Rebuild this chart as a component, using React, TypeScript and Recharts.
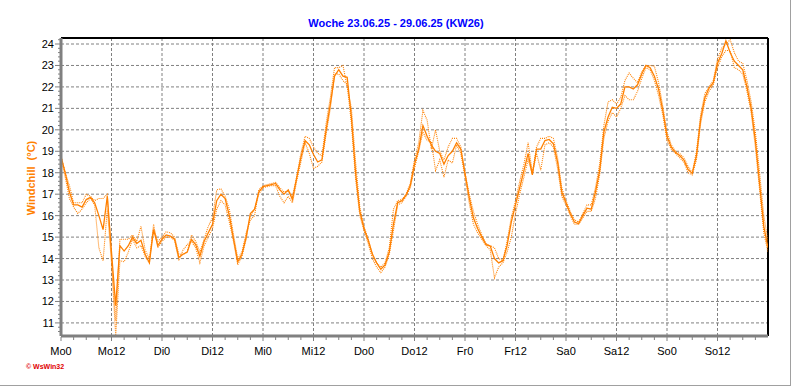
import React from "react";
import { LineChart, Line, XAxis, YAxis, ReferenceLine } from "recharts";

const dayTickLabels = ["Mo0","Mo12","Di0","Di12","Mi0","Mi12","Do0","Do12","Fr0","Fr12","Sa0","Sa12","So0","So12"];
const yLabels = [11,12,13,14,15,16,17,18,19,20,21,22,23,24];

// hourly windchill, solid series
const mainSeries = [
18.75,18.0,17.1,16.5,16.5,16.4,16.75,16.85,16.6,16.0,15.35,16.9,14.3,11.8,14.6,14.35,14.6,15.0,14.7,14.85,14.2,13.8,15.35,14.6,
14.9,15.1,15.05,14.9,14.05,14.2,14.3,14.9,14.65,14.1,14.8,15.2,15.6,16.7,17.0,16.8,16.0,14.9,13.85,14.2,15.0,16.1,16.3,17.1,
17.35,17.4,17.45,17.5,17.2,17.0,17.2,16.75,17.76,18.7,19.5,19.3,18.85,18.5,18.6,20.0,21.2,22.5,22.8,22.5,22.45,20.6,18.0,16.2,
15.4,14.85,14.2,13.8,13.5,13.7,14.3,15.6,16.6,16.7,16.95,17.4,18.4,19.1,20.2,19.7,19.3,19.0,18.9,18.4,18.8,19.0,19.4,19.1,
17.97,16.85,15.9,15.4,15.0,14.65,14.58,14.0,13.8,13.9,14.6,15.7,16.5,17.3,18.1,18.9,17.9,19.1,19.1,19.5,19.55,19.35,18.5,17.1,
16.6,16.1,15.7,15.63,16.0,16.35,16.3,17.1,18.1,19.9,20.6,21.05,21.0,21.2,22.0,22.0,21.9,22.1,22.6,23.0,22.9,22.5,21.9,20.9,
19.7,19.2,18.95,18.8,18.6,18.15,17.97,18.8,20.5,21.5,21.95,22.2,23.1,23.55,24.15,23.6,23.2,23.0,22.8,22.0,21.0,19.5,17.5,15.5,
14.5
];

// dotted series (upper)
const hiSeries = [
18.8,18.0,17.4,16.6,16.6,16.6,17.0,16.9,16.7,16.8,16.8,17.0,14.0,11.1,14.9,14.9,14.9,15.1,14.8,15.5,14.4,14.0,15.4,14.8,
15.0,15.25,15.2,15.0,14.2,14.2,14.3,15.1,14.8,14.3,14.9,15.5,15.9,17.2,17.25,16.9,16.3,15.1,14.0,14.3,15.2,15.8,16.0,17.2,
17.4,17.45,17.5,17.55,17.3,17.1,17.15,16.9,17.8,18.9,19.7,19.6,19.2,18.9,18.8,20.3,21.5,22.9,22.9,23.0,22.0,21.0,18.5,16.4,
15.5,14.9,14.2,13.8,13.6,13.8,14.5,16.3,16.7,16.75,17.0,17.5,18.6,19.4,20.9,20.45,19.1,20.0,19.0,18.6,19.2,19.6,19.6,19.2,
18.0,17.0,16.2,15.6,15.1,14.7,14.6,14.5,14.0,13.9,14.8,15.9,16.7,17.6,18.4,19.4,18.0,19.2,19.6,19.6,19.7,19.6,18.7,17.3,
16.7,16.2,15.8,15.7,16.1,16.5,16.5,17.3,18.4,20.2,21.3,21.4,21.2,21.5,22.3,22.65,22.4,22.2,22.7,23.0,23.0,22.96,22.2,21.1,
19.9,19.3,19.0,18.9,18.7,18.3,18.0,19.0,20.7,21.7,22.0,22.3,23.3,23.8,24.0,24.2,23.6,23.2,23.1,22.3,21.3,19.9,18.0,16.0,
14.8
];

// dotted series (lower)
const loSeries = [
18.7,17.8,16.8,16.4,16.1,16.3,16.6,16.8,16.5,14.5,13.9,16.3,13.8,10.4,13.9,13.85,14.3,14.9,14.5,14.6,14.1,13.8,15.6,14.5,
14.8,15.0,15.0,14.85,13.9,14.4,14.65,14.8,14.5,13.8,14.6,15.0,15.4,16.3,16.7,16.5,15.7,14.8,13.7,14.1,14.9,16.0,16.3,17.0,
17.3,17.35,17.4,17.4,16.9,16.6,16.9,16.6,17.6,18.5,19.4,18.9,18.2,18.3,18.5,19.8,21.0,22.6,22.6,22.3,22.1,20.3,17.7,16.0,
15.3,14.7,14.0,13.6,13.35,13.6,14.2,15.3,16.5,16.6,16.9,17.3,18.2,19.0,19.9,19.5,19.45,18.1,18.6,17.8,18.6,18.45,19.3,18.9,
17.8,16.6,15.6,15.2,14.9,14.6,14.4,13.1,13.6,13.8,14.3,15.0,16.1,17.0,17.8,18.6,17.95,18.9,18.12,19.3,19.4,19.2,18.2,16.9,
16.5,16.0,15.6,15.6,15.9,16.2,16.2,16.8,17.9,19.6,20.4,20.8,20.6,21.0,21.6,21.4,21.4,21.8,22.4,22.9,22.8,22.3,21.6,20.7,
19.5,19.1,18.9,18.7,18.5,18.0,17.9,18.6,20.3,21.3,21.8,22.1,22.9,23.4,23.7,23.7,22.9,22.8,22.6,21.8,20.8,19.2,17.2,15.2,
14.3
];

const data = mainSeries.map((v, i) => ({ h: i, main: v, hi: hiSeries[i], lo: loSeries[i] }));

const xTicks: number[] = [];
for (let h = 0; h < 168; h += 3) xTicks.push(h);
const yTicks: number[] = [];
for (let k = 53; k <= 121; k++) yTicks.push(Math.round(k * 2) / 10);

const Y_MIN = 10.39;
const Y_MAX = 24.28;
const GRID = "#808080";
const ORANGE = "#FF8000";
const FONT = "'Liberation Sans', Arial, sans-serif";

const XTick = (props: any) => {
  const { x, y, payload } = props;
  const v = payload.value;
  const major = v % 12 === 0;
  return (
    <g>
      <line x1={x} x2={x} y1={y + 1} y2={y + (major ? 5 : 4)} stroke={GRID} strokeWidth={1} />
      {major && (
        <text x={x} y={y + 19} textAnchor="middle" fontSize={11} fill="#000" fontFamily={FONT}>
          {dayTickLabels[v / 12]}
        </text>
      )}
    </g>
  );
};

const YTick = (props: any) => {
  const { x, y, payload } = props;
  const v = payload.value;
  const major = Math.abs(v - Math.round(v)) < 0.01;
  return (
    <g>
      <line x1={x - (major ? 6 : 3)} x2={x - 1} y1={y} y2={y} stroke={GRID} strokeWidth={1} />
      {major && (
        <text x={x - 7} y={y + 4} textAnchor="end" fontSize={11} fill="#000" fontFamily={FONT}>
          {v}
        </text>
      )}
    </g>
  );
};

export default function App() {
  return (
    <div style={{ position: "absolute", left: 0, top: 0, width: 792, height: 387, background: "#fff", overflow: "hidden" }}>
      <div style={{ position: "absolute", left: 0, top: 17, width: 792, textAlign: "center", fontFamily: FONT, fontWeight: "bold", fontSize: 11, color: "#0000ff", lineHeight: "13px" }}>
        Woche 23.06.25 - 29.06.25 (KW26)
      </div>
      <div style={{ position: "absolute", left: 31, top: 178, width: 0, height: 0 }}>
        <div style={{ position: "absolute", transform: "translate(-50%, -50%) rotate(-90deg)", whiteSpace: "pre", fontFamily: FONT, fontWeight: "bold", fontSize: 11, color: ORANGE, lineHeight: "13px" }}>
          Windchill  (°C)
        </div>
      </div>
      <div style={{ position: "absolute", left: 26, top: 362, fontFamily: FONT, fontWeight: "bold", fontSize: 7, color: "#e00000", lineHeight: "9px", whiteSpace: "pre" }}>
        © WsWin32
      </div>
      <div style={{ position: "absolute", left: 0, top: 385, width: 791, height: 1, background: "#a0a0a0" }} />
      <div style={{ position: "absolute", left: 790, top: 0, width: 1, height: 386, background: "#a0a0a0" }} />
      <LineChart width={792} height={387} data={data} margin={{ top: 38, right: 24, bottom: 21, left: 0 }}>
        <XAxis
          dataKey="h"
          type="number"
          domain={[0, 168]}
          ticks={xTicks}
          interval={0}
          tickSize={0}
          tickMargin={0}
          height={30}
          axisLine={{ stroke: GRID, strokeWidth: 3 }}
          tickLine={false}
          tick={<XTick />}
          allowDataOverflow
        />
        <YAxis
          type="number"
          domain={[Y_MIN, Y_MAX]}
          ticks={yTicks}
          interval={0}
          tickSize={0}
          tickMargin={0}
          width={61}
          axisLine={{ stroke: GRID, strokeWidth: 3 }}
          tickLine={false}
          tick={<YTick />}
          allowDataOverflow
        />
        {yLabels.map((v) => (
          <ReferenceLine key={"gy" + v} y={v} stroke={GRID} strokeDasharray="3 2" strokeWidth={1} />
        ))}
        {dayTickLabels.slice(1).map((_, i) => (
          <ReferenceLine key={"gx" + i} x={(i + 1) * 12} stroke={GRID} strokeDasharray="3 2" strokeWidth={1} />
        ))}
        <ReferenceLine y={Y_MAX} stroke="#000" strokeWidth={2} />
        <ReferenceLine x={168} stroke="#000" strokeWidth={2} />
        <Line type="linear" dataKey="hi" stroke={ORANGE} strokeWidth={1.1} strokeDasharray="1 1" dot={false} isAnimationActive={false} />
        <Line type="linear" dataKey="lo" stroke={ORANGE} strokeWidth={1.1} strokeDasharray="1 1" dot={false} isAnimationActive={false} />
        <Line type="linear" dataKey="main" stroke={ORANGE} strokeWidth={1.3} dot={false} isAnimationActive={false} />
      </LineChart>
    </div>
  );
}
